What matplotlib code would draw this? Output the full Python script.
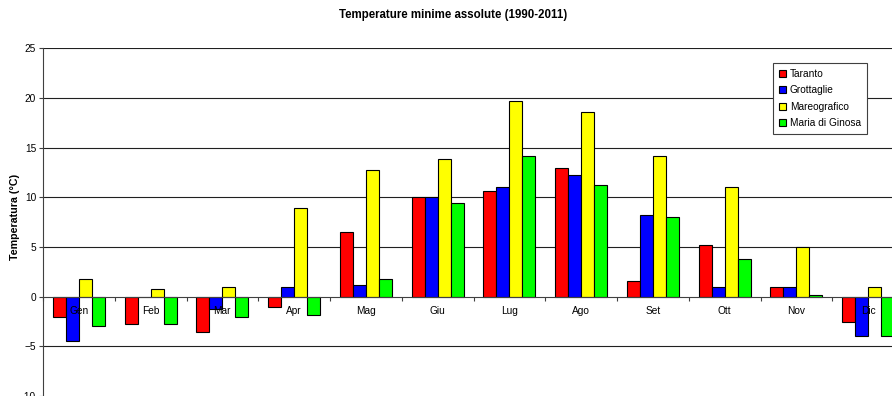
import matplotlib
matplotlib.use("Agg")
import matplotlib.pyplot as plt
import numpy as np

plt.rcParams['font.family'] = ['Liberation Sans', 'DejaVu Sans']

months = ["Gen", "Feb", "Mar", "Apr", "Mag", "Giu", "Lug", "Ago", "Set", "Ott", "Nov", "Dic"]
taranto = [-2.0, -2.8, -3.6, -1.0, 6.5, 10.0, 10.6, 13.0, 1.6, 5.2, 1.0, -2.6]
grottaglie = [-4.5, 0.0, -1.2, 1.0, 1.2, 10.0, 11.0, 12.2, 8.2, 1.0, 1.0, -4.0]
mareografico = [1.8, 0.8, 1.0, 8.9, 12.7, 13.9, 19.7, 18.6, 14.2, 11.0, 5.0, 1.0]
ginosa = [-3.0, -2.8, -2.0, -1.8, 1.8, 9.4, 14.2, 11.2, 8.0, 3.8, 0.2, -4.0]

series = [
    ("Taranto", taranto, "#ff0000"),
    ("Grottaglie", grottaglie, "#0000ff"),
    ("Mareografico", mareografico, "#ffff00"),
    ("Maria di Ginosa", ginosa, "#00ff00"),
]

W, H = 892, 396
fig = plt.figure(figsize=(W / 100, H / 100), dpi=100)

# plot area runs past the right and bottom edges of the canvas
left_px, top_px = 43, 48.3
cat_w = 71.75
ax = fig.add_axes([left_px / W, 0.0, 12 * cat_w / W, (H - top_px) / H])

x = np.arange(len(months))
bw = 0.181
for k, (name, vals, col) in enumerate(series):
    ax.bar(x + (k - 1.5) * bw, vals, width=bw, color=col, edgecolor="black",
           linewidth=0.8, label=name, zorder=3)

ax.set_xlim(-0.5, 11.5)
ax.set_ylim(-10, 25)
ax.set_yticks(np.arange(-10, 26, 5))
for yv in [-5, 5, 10, 15, 20, 25]:
    ax.axhline(yv, color="#202020", linewidth=0.8, zorder=1)

ax.spines['top'].set_visible(False)
ax.spines['right'].set_visible(False)
ax.spines['left'].set_color("#404040")
ax.spines['bottom'].set_position(('data', 0))
ax.spines['bottom'].set_color("#404040")
ax.spines['bottom'].set_zorder(4)

ax.set_xticks(np.arange(-0.5, 12, 1.0))
ax.set_xticklabels([])
ax.tick_params(axis='x', which='major', length=3, direction='out', color="#404040")
ax.set_xticks(x, minor=True)
ax.set_xticklabels(months, minor=True)
ax.tick_params(axis='x', which='minor', length=0, pad=6.5, labelsize=7.3)
ax.tick_params(axis='y', length=3, color="#404040", labelsize=7.3, pad=2)
# month names sit on top of the bars
ax.xaxis.set_zorder(5)

fig.text(15 / W, 1 - 216.5 / H, "Temperatura (°C)", rotation=90,
         ha="center", va="center", fontsize=7.7, fontweight="bold")

fig.text(453 / W, 1 - 15 / H, "Temperature minime assolute (1990-2011)",
         ha="center", va="center", fontsize=8.3, fontweight="bold")

leg = ax.legend(loc="upper left", bbox_to_anchor=(773 / W, 1 - 63 / H),
                bbox_transform=fig.transFigure, fontsize=7.3, frameon=True,
                fancybox=False, edgecolor="#404040", framealpha=1,
                handlelength=0.7, handleheight=0.7, handletextpad=0.35,
                labelspacing=0.62, borderpad=0.6, borderaxespad=0)
leg.get_frame().set_linewidth(0.8)
leg.set_zorder(6)

fig.savefig("out.png", dpi=100)
